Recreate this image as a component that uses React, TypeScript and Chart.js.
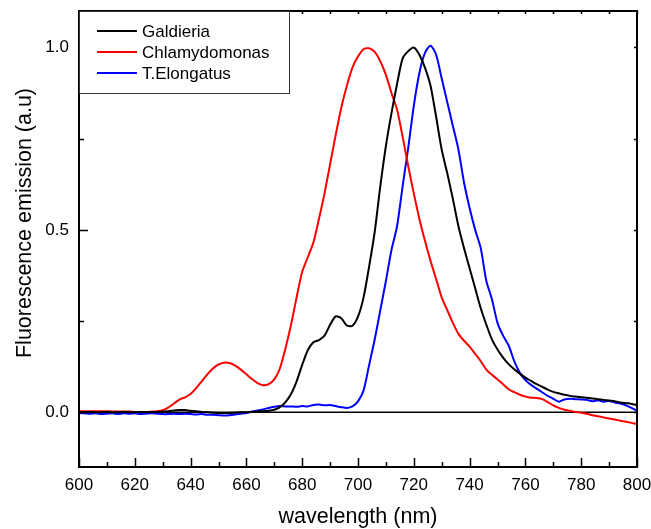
import React, { useEffect, useRef } from "react";
import { Chart, registerables } from "chart.js";

Chart.register(...registerables);

const wavelengths = [
  600, 602, 604, 606, 608, 610, 612, 614, 616, 618, 620, 622, 624, 626, 628, 630, 632, 634, 636, 638,
  640, 642, 644, 646, 648, 650, 652, 654, 656, 658, 660, 662, 664, 666, 668, 670, 672, 674, 676, 678,
  680, 682, 684, 686, 688, 690, 692, 694, 696, 698, 700, 702, 704, 706, 708, 710, 712, 714, 716, 718,
  720, 722, 724, 726, 728, 730, 732, 734, 736, 738, 740, 742, 744, 746, 748, 750, 752, 754, 756, 758,
  760, 762, 764, 766, 768, 770, 772, 774, 776, 778, 780, 782, 784, 786, 788, 790, 792, 794, 796, 798, 800,
];

const galdieria = [
  0.0, 0.0, 0.001, 0.0, 0.0, 0.001, 0.0, 0.0, 0.001, 0.0, 0.0, 0.001, 0.0, 0.001, 0.001, 0.002, 0.003, 0.005, 0.006, 0.006,
  0.004, 0.003, 0.001, 0.0, -0.001, -0.002, -0.002, -0.002, -0.001, 0.0, 0.0, 0.001, 0.002, 0.003, 0.004, 0.007, 0.014, 0.028, 0.05, 0.085,
  0.13, 0.17, 0.192, 0.198, 0.21, 0.24, 0.263, 0.258, 0.238, 0.237, 0.262, 0.315, 0.4, 0.495, 0.62, 0.73, 0.82, 0.9, 0.97, 0.99,
  1.0, 0.98, 0.945, 0.895, 0.81, 0.72, 0.655, 0.585, 0.51, 0.45, 0.395, 0.34, 0.285, 0.24, 0.2, 0.172, 0.15, 0.132, 0.118, 0.106,
  0.095, 0.086, 0.077, 0.07, 0.062, 0.056, 0.052, 0.048, 0.045, 0.043, 0.041, 0.04, 0.038, 0.036, 0.034, 0.032, 0.03, 0.027, 0.025, 0.023, 0.02,
];

const chlamydomonas = [
  0.003, 0.003, 0.003, 0.003, 0.003, 0.003, 0.002, 0.002, 0.002, 0.002, 0.001, 0.001, 0.001, 0.002, 0.003, 0.006, 0.013, 0.024, 0.035, 0.041,
  0.05, 0.066, 0.085, 0.104, 0.12, 0.131, 0.136, 0.135, 0.128, 0.117, 0.104, 0.091, 0.08, 0.074, 0.077, 0.09, 0.12, 0.175, 0.24, 0.315,
  0.385, 0.425, 0.465, 0.53, 0.6, 0.68, 0.76, 0.835, 0.895, 0.945, 0.975, 0.995, 0.998, 0.988, 0.962, 0.925, 0.875, 0.83, 0.755, 0.675,
  0.6, 0.53, 0.47, 0.415, 0.365, 0.315, 0.28, 0.245, 0.215, 0.196, 0.18, 0.16, 0.14, 0.117, 0.103, 0.09, 0.077, 0.063, 0.055, 0.048,
  0.043, 0.04, 0.039, 0.036, 0.028, 0.019, 0.012, 0.007, 0.004, 0.001, -0.001, -0.004, -0.008, -0.011, -0.014, -0.017, -0.02, -0.023, -0.026, -0.029, -0.032,
];

const tElongatus = [
  -0.002, -0.003, -0.004, -0.003, -0.005, -0.004, -0.003, -0.005, -0.003, -0.004, -0.003, -0.005, -0.004, -0.003, -0.004, -0.005, -0.005, -0.004, -0.005, -0.004,
  -0.005, -0.006, -0.005, -0.007, -0.007, -0.008, -0.009, -0.008, -0.006, -0.004, -0.002, 0.002, 0.005, 0.008, 0.012, 0.015, 0.017, 0.016, 0.016, 0.015,
  0.017, 0.016, 0.02, 0.021, 0.019, 0.02, 0.017, 0.014, 0.012, 0.016, 0.03, 0.06, 0.13, 0.2, 0.28, 0.36, 0.445, 0.51, 0.62, 0.725,
  0.84, 0.93, 0.985, 1.005, 0.98, 0.915, 0.85, 0.785, 0.72, 0.63, 0.56, 0.5, 0.45, 0.36, 0.31, 0.245, 0.21, 0.183, 0.14, 0.108,
  0.088, 0.075, 0.065, 0.055, 0.045, 0.037, 0.029, 0.035, 0.037, 0.036, 0.035, 0.034, 0.03, 0.033, 0.029, 0.031, 0.027, 0.024, 0.019, 0.012, 0.004,
];

const seriesNames = ["Galdieria", "Chlamydomonas", "T.Elongatus"];
const seriesColors = ["#000000", "#ff0000", "#0000ff"];

const xLabelTicks = [600, 620, 640, 660, 680, 700, 720, 740, 760, 780, 800];
const xAllTicks = [600, 610, 620, 630, 640, 650, 660, 670, 680, 690, 700, 710, 720, 730, 740, 750, 760, 770, 780, 790, 800];
const yLabelTicks = [0, 0.5, 1.0];
const yAllTicks = [0, 0.25, 0.5, 0.75, 1.0];

const xTitle = "wavelength (nm)";
const yTitle = "Fluorescence emission (a.u)";

const FONT = "'Liberation Sans', Arial, sans-serif";

const decorPlugin = {
  id: "decor",
  beforeDatasetsDraw(chart: any) {
    const { ctx, chartArea } = chart;
    const y0 = chart.scales.y.getPixelForValue(0);
    ctx.save();
    ctx.strokeStyle = "#000";
    ctx.lineWidth = 1.6;
    ctx.beginPath();
    ctx.moveTo(chartArea.left, y0);
    ctx.lineTo(chartArea.right, y0);
    ctx.stroke();
    ctx.restore();
  },
  afterDraw(chart: any) {
    const { ctx, chartArea } = chart;
    const { left, right, top, bottom } = chartArea;
    const xs = chart.scales.x;
    const ys = chart.scales.y;
    ctx.save();
    ctx.strokeStyle = "#000";
    ctx.lineWidth = 2;
    ctx.strokeRect(left, top, right - left, bottom - top);
    ctx.lineWidth = 1.5;
    ctx.beginPath();
    xAllTicks.forEach((v) => {
      const px = Math.round(xs.getPixelForValue(v)) + 0.5;
      const len = xLabelTicks.includes(v) ? 9 : 5;
      ctx.moveTo(px, bottom);
      ctx.lineTo(px, bottom - len);
      ctx.moveTo(px, top);
      ctx.lineTo(px, top + 3);
    });
    yAllTicks.forEach((v) => {
      const py = Math.round(ys.getPixelForValue(v)) + 0.5;
      const len = yLabelTicks.includes(v) ? 9 : 5;
      ctx.moveTo(left, py);
      ctx.lineTo(left + len, py);
      ctx.moveTo(right, py);
      ctx.lineTo(right - 3, py);
    });
    ctx.stroke();

    // legend
    const boxW = 210;
    const boxH = 82;
    ctx.fillStyle = "#fff";
    ctx.fillRect(left + 1, top + 1, boxW - 1, boxH - 1);
    ctx.strokeStyle = "#333";
    ctx.lineWidth = 1;
    ctx.strokeRect(left + 0.5, top + 0.5, boxW, boxH);
    ctx.font = `17px ${FONT}`;
    ctx.textBaseline = "middle";
    ctx.textAlign = "left";
    seriesNames.forEach((name, i) => {
      const cy = top + 20 + i * 21;
      ctx.strokeStyle = seriesColors[i];
      ctx.lineWidth = 2;
      ctx.beginPath();
      ctx.moveTo(left + 18, cy);
      ctx.lineTo(left + 58, cy);
      ctx.stroke();
      ctx.fillStyle = "#000";
      ctx.fillText(name, left + 63, cy + 1);
    });

    // titles
    ctx.fillStyle = "#000";
    ctx.font = `21.5px ${FONT}`;
    ctx.textAlign = "center";
    ctx.textBaseline = "alphabetic";
    ctx.fillText(xTitle, (left + right) / 2, 523);
    ctx.save();
    ctx.translate(31, 223);
    ctx.rotate(-Math.PI / 2);
    ctx.fillText(yTitle, 0, 0);
    ctx.restore();
    ctx.restore();
  },
};

export default function App() {
  const canvasRef = useRef<HTMLCanvasElement | null>(null);

  useEffect(() => {
    const canvas = canvasRef.current;
    if (!canvas) return;
    const mk = (vals: number[]) => wavelengths.map((w, i) => ({ x: w, y: vals[i] }));
    const seriesValues = [galdieria, chlamydomonas, tElongatus];
    const chart = new Chart(canvas, {
      type: "line",
      data: {
        datasets: seriesNames.map((name, i) => ({
          label: name,
          data: mk(seriesValues[i]),
          borderColor: seriesColors[i],
          backgroundColor: seriesColors[i],
          borderWidth: 2,
          pointRadius: 0,
          tension: 0.25,
          fill: false,
        })),
      },
      options: {
        animation: false,
        responsive: false,
        layout: { padding: { left: 0, top: 11, right: 14, bottom: 0 } },
        plugins: {
          legend: { display: false },
          tooltip: { enabled: false },
          title: { display: false },
        },
        scales: {
          x: {
            type: "linear",
            min: 600,
            max: 800,
            grid: { display: false, drawTicks: false },
            border: { display: false },
            afterBuildTicks: (scale: any) => {
              scale.ticks = xLabelTicks.map((v) => ({ value: v }));
            },
            afterFit: (scale: any) => {
              scale.height = 62;
              scale.paddingLeft = 0;
              scale.paddingRight = 0;
              scale.paddingTop = 0;
              scale.paddingBottom = 0;
            },
            ticks: {
              padding: 8,
              maxRotation: 0,
              autoSkip: false,
              color: "#000",
              font: { family: FONT, size: 17 },
              callback: (v: any) => String(v),
            },
          },
          y: {
            type: "linear",
            min: -0.15,
            max: 1.1,
            grid: { display: false, drawTicks: false },
            border: { display: false },
            afterBuildTicks: (scale: any) => {
              scale.ticks = yLabelTicks.map((v) => ({ value: v }));
            },
            afterFit: (scale: any) => {
              scale.width = 79;
              scale.paddingLeft = 0;
              scale.paddingRight = 0;
              scale.paddingTop = 0;
              scale.paddingBottom = 0;
            },
            ticks: {
              padding: 10,
              autoSkip: false,
              color: "#000",
              font: { family: FONT, size: 17 },
              callback: (v: any) => Number(v).toFixed(1),
            },
          },
        },
      },
      plugins: [decorPlugin],
    });
    return () => chart.destroy();
  }, []);

  return (
    <div style={{ position: "fixed", left: 0, top: 0, width: 651, height: 529, background: "#fff" }}>
      <canvas ref={canvasRef} width={651} height={529} style={{ display: "block" }} />
    </div>
  );
}
